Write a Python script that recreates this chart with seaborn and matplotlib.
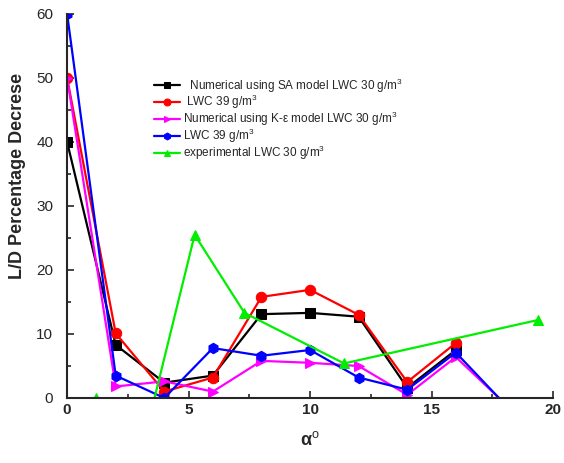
import matplotlib
matplotlib.use("Agg")
import matplotlib.pyplot as plt
import seaborn as sns
import pandas as pd

# 数据
x_num = [0, 2, 4, 6, 8, 10, 12, 14, 16]
sa_30 = [40, 8.3, 2.4, 3.5, 13.1, 13.3, 12.7, 1.6, 7.5]
sa_39 = [50, 10.1, 1.0, 3.2, 15.8, 16.9, 13.0, 2.5, 8.6]

x_ke = [0, 2, 4, 6, 8, 10, 12, 14, 16, 18]
ke_30 = [50, 1.8, 2.6, 1.0, 5.8, 5.5, 5.0, 0.5, 6.4, -0.8]
ke_39 = [60, 3.5, 0.0, 7.8, 6.6, 7.5, 3.2, 1.3, 7.1, -0.9]

x_exp = [1.2, 3.5, 5.25, 7.3, 11.4, 19.4]
exp_30 = [0.0, -1.5, 25.5, 13.3, 5.4, 12.2]

labels = ['  Numerical using SA model LWC 30 g/m$^3$',
          ' LWC 39 g/m$^3$',
          'Numerical using K-\u03b5 model LWC 30 g/m$^3$',
          'LWC 39 g/m$^3$',
          'experimental LWC 30 g/m$^3$']

sns.set_style("ticks")
plt.rcParams['font.family'] = ['Liberation Sans', 'DejaVu Sans']
plt.rcParams['mathtext.fontset'] = 'custom'
plt.rcParams['mathtext.rm'] = 'Liberation Sans'

fig = plt.figure(figsize=(5.64, 4.63), dpi=100)
ax = fig.add_axes([0.119, 0.1404, 0.8615, 0.8294])

series = [
    (x_num, sa_30, 'black', 's', labels[0]),
    (x_num, sa_39, 'red', 'o', labels[1]),
    (x_ke, ke_30, 'magenta', '>', labels[2]),
    (x_ke, ke_39, 'blue', 'h', labels[3]),
    (x_exp, exp_30, '#00ee00', '^', labels[4]),
]

for xs, ys, c, m, lab in series:
    df = pd.DataFrame({'x': xs, 'y': ys})
    sns.lineplot(data=df, x='x', y='y', ax=ax, color=c, marker=m,
                 markersize=7.5, markeredgecolor=c, linewidth=1.6,
                 label=lab, sort=False, clip_on=True)

ax.set_xlim(0, 20)
ax.set_ylim(0, 60)
ax.set_xticks([0, 5, 10, 15, 20])
ax.set_xticks([2.5, 7.5, 12.5, 17.5], minor=True)
ax.set_yticks([0, 10, 20, 30, 40, 50, 60])
ax.set_yticks([5, 15, 25, 35, 45, 55], minor=True)
ax.tick_params(direction='in', which='major', length=5, width=1.2, labelsize=11)
ax.tick_params(axis='y', which='major', pad=10)
ax.tick_params(direction='in', which='minor', length=3, width=1.2)
for lbl in ax.get_xticklabels():
    lbl.set_fontweight('bold')

for s in ['top', 'right']:
    ax.spines[s].set_visible(False)
for s in ['left', 'bottom']:
    ax.spines[s].set_linewidth(1.5)

ax.set_xlabel('\u03b1$^{\\rm o}$', fontsize=13, fontweight='bold', labelpad=10)
ax.set_ylabel('L/D Percentage Decrese', fontsize=13, fontweight='bold', labelpad=6)
ax.yaxis.set_label_coords(-0.085, 0.577)

leg = ax.legend(loc='upper left', bbox_to_anchor=(0.17, 0.85), frameon=False,
                fontsize=8.5, handlelength=2.2, handletextpad=0.2,
                labelspacing=-0.12, borderaxespad=0)
for h in leg.legend_handles:
    h.set_markersize(5)

fig.savefig('out.png', dpi=100)
